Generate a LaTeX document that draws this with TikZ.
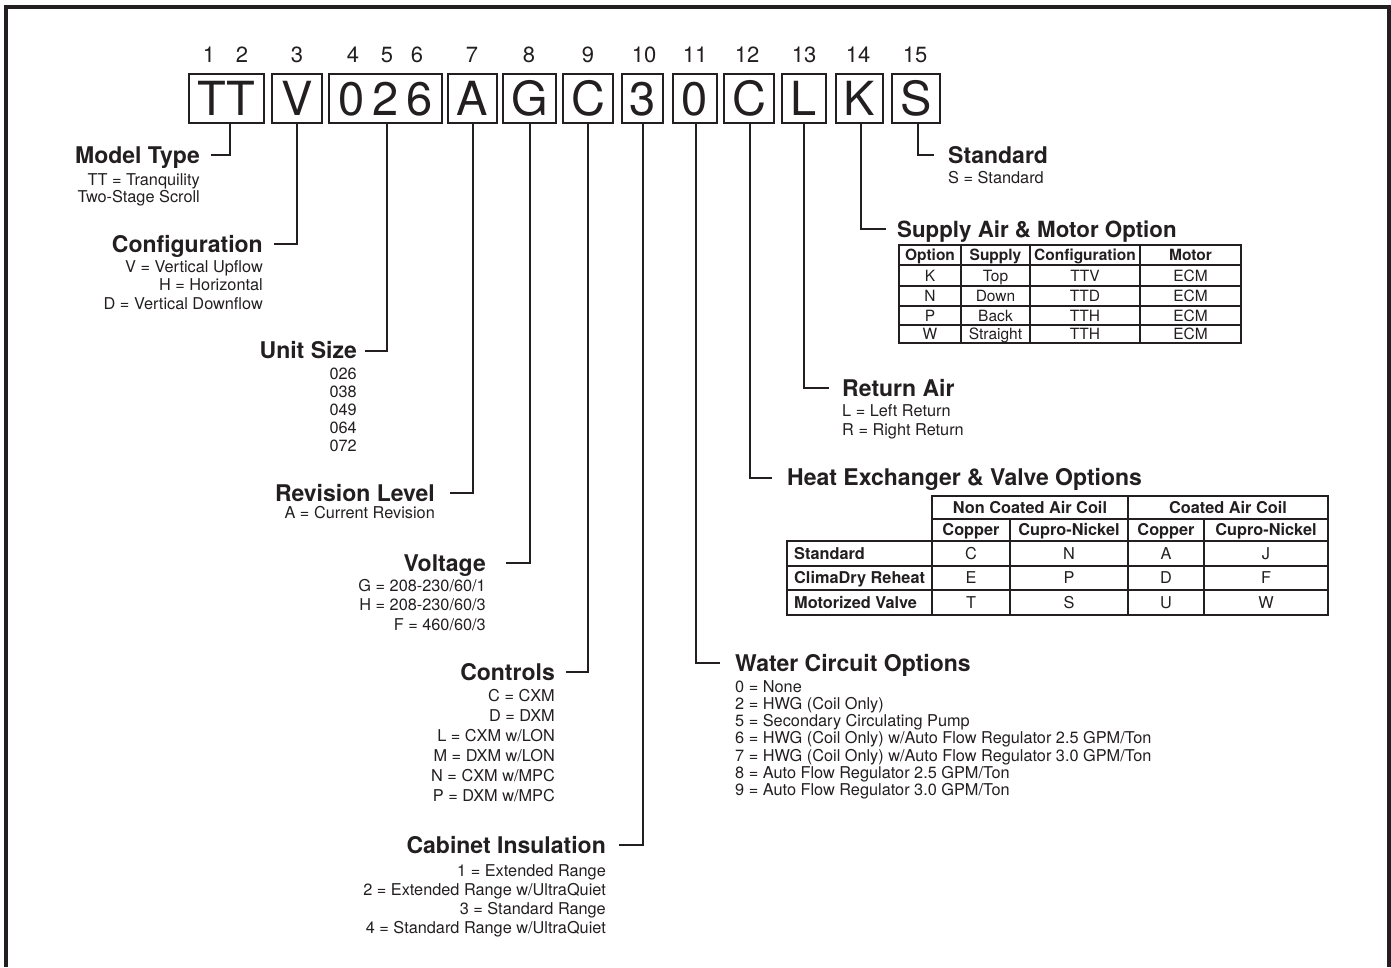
\documentclass[tikz,border=0pt]{standalone}
\usepackage{fontspec}
\setmainfont{TeX Gyre Heros}
\usetikzlibrary{positioning}
\definecolor{inkblack}{RGB}{35,31,32}

\tikzset{
	digitbox/.style={draw=inkblack,line width=2.3pt,minimum height=49pt,inner sep=0pt,text height=34pt,text depth=0pt,font=\fontsize{47}{47}\selectfont},
	posnum/.style={inner sep=0pt,text height=16pt,text depth=0pt,font=\fontsize{22}{22}\selectfont},
	title/.style={inner sep=0pt,text height=16.5pt,text depth=0pt,font=\fontsize{23}{24}\selectfont\bfseries},
	desc/.style={inner sep=0pt,font=\fontsize{16.3}{#1}\selectfont},
	desc/.default=18,
	lead/.style={draw=inkblack,line width=2pt},
	grid/.style={draw=inkblack,line width=1.2pt},
	tblframe/.style={draw=inkblack,line width=1.8pt},
	cellhead/.style={inner sep=0pt,text height=11pt,text depth=0pt,font=\fontsize{15.5}{16}\selectfont\bfseries},
	cell/.style={inner sep=0pt,text height=11pt,text depth=0pt,font=\fontsize{15.5}{16}\selectfont},
	hxhead/.style={inner sep=0pt,text height=11.5pt,text depth=0pt,font=\fontsize{16.3}{17}\selectfont\bfseries},
	hxcell/.style={inner sep=0pt,text height=11.5pt,text depth=0pt,font=\fontsize{16.3}{17}\selectfont}
}

\begin{document}
\begin{tikzpicture}[x=1pt,y=-1pt,color=inkblack,line cap=butt,line join=miter]
		\useasboundingbox (0,0) rectangle (1391,967);
		\draw [line width=4pt] (6,967) -- (6,7) -- (1389,7) -- (1389,967);
		% code boxes
		\node[digitbox,minimum width=75pt] (tt) at (226.5,98.5) {TT};
		\node[digitbox,minimum width=50pt] (cfg) at (297,98.5) {V};
		\node[digitbox,minimum width=113pt] (size) at (385.5,98.5) {0\kern8pt2\kern8pt6};
		\node[digitbox,minimum width=49pt] (rev) at (472.5,98.5) {A};
		\node[digitbox,minimum width=53pt] (volt) at (529.5,98.5) {G};
		\node[digitbox,minimum width=50pt] (ctrl) at (588,98.5) {C};
		\node[digitbox,minimum width=41pt] (cab) at (642.5,98.5) {3};
		\node[digitbox,minimum width=44pt] (water) at (695,98.5) {0};
		\node[digitbox,minimum width=50pt] (hx) at (749,98.5) {C};
		\node[digitbox,minimum width=44pt] (ret) at (804,98.5) {L};
		\node[digitbox,minimum width=47pt] (sup) at (859.5,98.5) {K};
		\node[digitbox,minimum width=48pt] (std) at (916,98.5) {S};
		\foreach \n/\x in {1/209,2/242,3/297,4/353,5/387,6/417,7/472,8/529,9/588,10/644,11/695,12/747,13/804,14/858,15/915}
		\node[posnum] (p\n) at (\x,54.5) {\n};
		% left side
		\node[title,anchor=east] (mtype) at (200,155) {Model Type};
		\node[desc=17,align=right,below left=9.5pt and 0pt of mtype.south east] (mtypeD) {TT = Tranquility\\Two-Stage Scroll};
		\node[title,anchor=east] (config) at (263,244) {Configuration};
		\node[desc=18.5,align=right,below left=7.5pt and 0pt of config.south east] (configD) {V = Vertical Upflow\\H = Horizontal\\D = Vertical Downflow};
		\node[title,anchor=east] (usize) at (357,350.5) {Unit Size};
		\node[desc=18,align=right,below left=8.5pt and 0pt of usize.south east] (usizeD) {026\\038\\049\\064\\072};
		\node[title,anchor=east] (revlvl) at (435,493) {Revision Level};
		\node[desc,align=right,below left=4.5pt and 0pt of revlvl.south east] (revlvlD) {A = Current Revision};
		\node[title,anchor=east] (voltage) at (486,563) {Voltage};
		\node[desc=19.5,align=right,below left=7.5pt and 0pt of voltage.south east] (voltageD) {G = 208-230/60/1\\H = 208-230/60/3\\F = 460/60/3};
		\node[title,anchor=east] (controls) at (555,672) {Controls};
		\node[desc=20,align=right,below left=8.5pt and 0pt of controls.south east] (controlsD) {C = CXM\\D = DXM\\L = CXM w/LON\\M = DXM w/LON\\N = CXM w/MPC\\P = DXM w/MPC};
		\node[title,anchor=east] (cabinet) at (606,845) {Cabinet Insulation};
		\node[desc=19,align=right,below left=10.5pt and 0pt of cabinet.south east] (cabinetD) {1 = Extended Range\\2 = Extended Range w/UltraQuiet\\3 = Standard Range\\4 = Standard Range w/UltraQuiet};
		% right side
		\node[title,anchor=west] (stdopt) at (948,155) {Standard};
		\node[desc,align=left,below right=7.5pt and 0pt of stdopt.south west] (stdoptD) {S = Standard};
		\node[title,anchor=west,font=\fontsize{22.3}{24}\selectfont\bfseries] (supair) at (897,229) {Supply Air \& Motor Option};
		\node[title,anchor=west] (retair) at (842,388) {Return Air};
		\node[desc=19,align=left,below right=7.5pt and 0pt of retair.south west] (retairD) {L = Left Return\\R = Right Return};
		\node[title,anchor=west] (hexch) at (787,477.5) {Heat Exchanger \& Valve Options};
		\node[title,anchor=west] (wcircuit) at (735,663) {Water Circuit Options};
		\node[desc=17.3,align=left,below right=8.5pt and 0pt of wcircuit.south west] (wcircuitD) {0 = None\\2 = HWG (Coil Only)\\5 = Secondary Circulating Pump\\6 = HWG (Coil Only) w/Auto Flow Regulator 2.5 GPM/Ton\\7 = HWG (Coil Only) w/Auto Flow Regulator 3.0 GPM/Ton\\8 = Auto Flow Regulator 2.5 GPM/Ton\\9 = Auto Flow Regulator 3.0 GPM/Ton};
		% leaders
		\draw[lead] ([xshift=3.5pt]tt.south) |- ([xshift=11pt]mtype.east);
		\draw[lead] (cfg.south) |- ([xshift=11pt]config.east);
		\draw[lead] ([xshift=1.5pt]size.south) |- ([xshift=8pt]usize.east);
		\draw[lead] (rev.south) |- ([xshift=15pt]revlvl.east);
		\draw[lead] (volt.south) |- ([xshift=20pt]voltage.east);
		\draw[lead] (ctrl.south) |- ([xshift=11pt]controls.east);
		\draw[lead] (cab.south) |- ([xshift=13pt]cabinet.east);
		\draw[lead] ([xshift=1pt]water.south) |- ([xshift=-15pt]wcircuit.west);
		\draw[lead] ([xshift=1pt]hx.south) |- ([xshift=-15pt]hexch.west);
		\draw[lead] (ret.south) |- ([xshift=-13pt]retair.west);
		\draw[lead] ([xshift=1.5pt]sup.south) |- ([xshift=-11pt]supair.west);
		\draw[lead] ([xshift=2pt]std.south) |- ([xshift=-14pt]stdopt.west);
		% supply air table
		\draw[tblframe] (899,245) rectangle (1241,343);
		\foreach \y in {265,286,306,325} \draw[grid] (899,\y) -- (1241,\y);
		\foreach \x in {961,1030,1140} \draw[grid] (\x,245) -- (\x,343);
		\foreach \x/\t [count=\i] in {930/Option,995.5/Supply,1085/Configuration,1190.5/Motor}
		\node[cellhead] (suphead\i) at (\x,255) {\t};
		\foreach \y/\o/\s/\c [count=\r] in {275.5/K/Top/TTV,296/N/Down/TTD,315.5/P/Back/TTH,334/W/Straight/TTH}{
			\node[cell] (supopt\r) at (930,\y) {\o};
			\node[cell] (supsup\r) at (995.5,\y) {\s};
			\node[cell] (supcfg\r) at (1085,\y) {\c};
			\node[cell] (supmot\r) at (1190.5,\y) {ECM};
		}
		% heat exchanger table
		\draw[tblframe] (932,541) -- (932,496) -- (1328,496) -- (1328,615) -- (787,615) -- (787,541) -- cycle;
		\draw[tblframe] (932,541) -- (1328,541);
		\draw[tblframe] (932,541) -- (932,615);
		\draw[grid] (932,519) -- (1328,519);
		\foreach \y in {566,590} \draw[grid] (787,\y) -- (1328,\y);
		\draw[grid] (1010,519) -- (1010,615);
		\draw[grid] (1128,496) -- (1128,615);
		\draw[grid] (1204,519) -- (1204,615);
		\node[hxhead] (hxnon) at (1030,507.5) {Non Coated Air Coil};
		\node[hxhead] (hxcoat) at (1228,507.5) {Coated Air Coil};
		\foreach \x/\t [count=\i] in {971/Copper,1069/Cupro-Nickel,1166/Copper,1266/Cupro-Nickel}
		\node[hxhead] (hxhead\i) at (\x,530) {\t};
		\foreach \y/\t/\a/\b/\c/\d [count=\r] in {553.5/Standard/C/N/A/J,578/ClimaDry Reheat/E/P/D/F,602.5/Motorized Valve/T/S/U/W}{
			\node[hxhead,anchor=west] (hxrow\r) at (794,\y) {\t};
			\node[hxcell] (hxa\r) at (971,\y) {\a};
			\node[hxcell] (hxb\r) at (1069,\y) {\b};
			\node[hxcell] (hxc\r) at (1166,\y) {\c};
			\node[hxcell] (hxd\r) at (1266,\y) {\d};
		}
	\end{tikzpicture}
\end{document}
